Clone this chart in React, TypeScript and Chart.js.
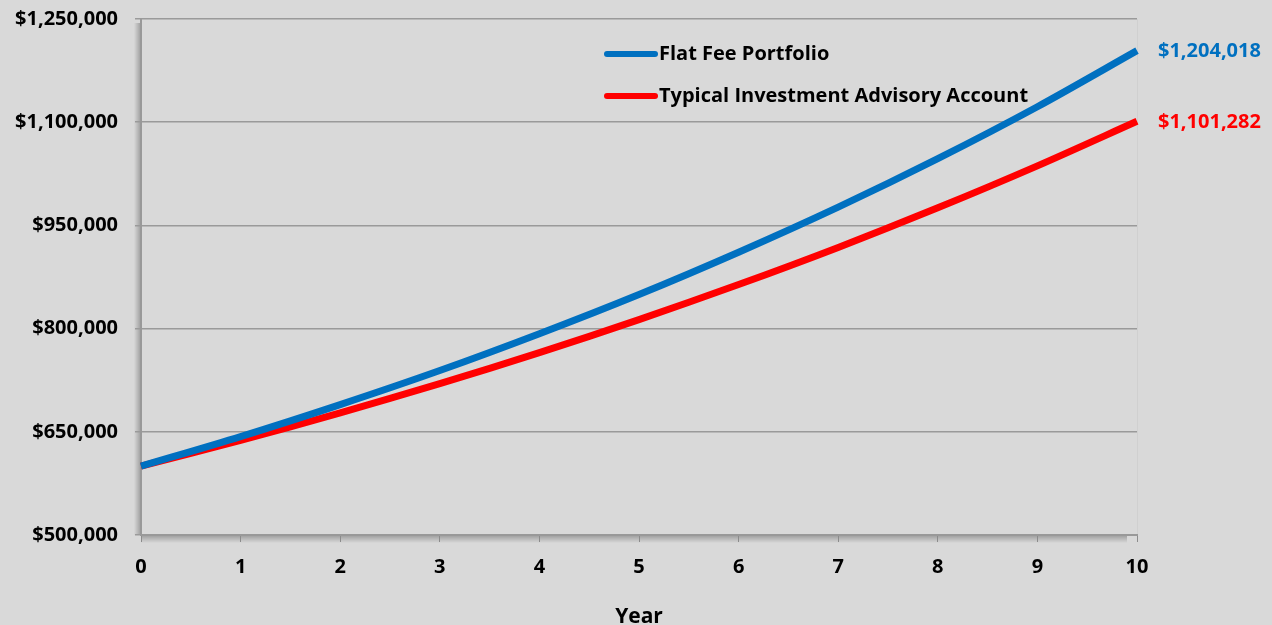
import React, { useEffect, useRef } from "react";
import { Chart, registerables } from "chart.js";

Chart.register(...registerables);

const years = ["0", "1", "2", "3", "4", "5", "6", "7", "8", "9", "10"];
const flatFee = [600000, 643000, 689500, 739000, 792500, 849500, 911000, 976500, 1047000, 1122500, 1204018];
const typical = [600000, 637600, 677500, 720000, 765000, 813000, 864000, 918000, 975500, 1036500, 1101282];
const seriesNames = ["Flat Fee Portfolio", "Typical Investment Advisory Account"];
const seriesColors = ["#0070c0", "#ff0000"];
const yMin = 500000;
const yMax = 1250000;
const yStep = 150000;
const xTitle = "Year";

const FONT = "'Open Sans', 'Noto Sans', sans-serif";
const FS = 20;
const fmt = (v: number) => "$" + Math.round(v).toLocaleString("en-US");

const shadowPlugin = {
  id: "axisShadow",
  beforeDraw(chart: any) {
    const { ctx, chartArea } = chart;
    const { left, right, top, bottom } = chartArea;
    ctx.save();
    // left axis shadow
    const gl = ctx.createLinearGradient(left - 7, 0, left, 0);
    gl.addColorStop(0, "rgba(0,0,0,0)");
    gl.addColorStop(1, "rgba(0,0,0,0.28)");
    ctx.fillStyle = gl;
    ctx.fillRect(left - 7, top + 4, 7, bottom - top - 4);
    // bottom axis shadow
    const gb = ctx.createLinearGradient(0, bottom, 0, bottom + 8);
    gb.addColorStop(0, "rgba(0,0,0,0.28)");
    gb.addColorStop(1, "rgba(0,0,0,0)");
    ctx.fillStyle = gb;
    ctx.fillRect(left, bottom, right - left - 10, 8);
    // faint right edge
    ctx.strokeStyle = "#d0d0d0";
    ctx.lineWidth = 1;
    ctx.beginPath();
    ctx.moveTo(right + 0.5, top);
    ctx.lineTo(right + 0.5, bottom);
    ctx.stroke();
    ctx.restore();
  },
};

const overlayPlugin = {
  id: "overlay",
  afterDatasetsDraw(chart: any) {
    const { ctx, chartArea } = chart;
    ctx.save();
    seriesNames.forEach((name, i) => {
      const y = 54 + i * 42;
      ctx.strokeStyle = seriesColors[i];
      ctx.lineWidth = 6;
      ctx.lineCap = "round";
      ctx.beginPath();
      ctx.moveTo(607, y);
      ctx.lineTo(655, y);
      ctx.stroke();
      ctx.fillStyle = "#000";
      ctx.font = `bold ${FS}px ${FONT}`;
      ctx.textBaseline = "middle";
      ctx.textAlign = "left";
      ctx.fillText(name, 659, y);
    });
    chart.data.datasets.forEach((ds: any, i: number) => {
      const meta = chart.getDatasetMeta(i);
      const pt = meta.data[meta.data.length - 1];
      const v = ds.data[ds.data.length - 1];
      ctx.fillStyle = seriesColors[i];
      ctx.font = `bold ${FS}px ${FONT}`;
      ctx.textBaseline = "middle";
      ctx.textAlign = "left";
      ctx.fillText(fmt(v), chartArea.right + 21, pt.y + 1);
    });
    ctx.restore();
  },
};

export default function App() {
  const ref = useRef<HTMLCanvasElement>(null);
  useEffect(() => {
    if (!ref.current) return;
    const chart = new Chart(ref.current, {
      type: "line",
      data: {
        labels: years,
        datasets: [
          {
            label: seriesNames[0],
            data: flatFee,
            borderColor: seriesColors[0],
            backgroundColor: seriesColors[0],
            borderWidth: 7,
            pointRadius: 0,
            tension: 0.3,
            borderCapStyle: "butt",
          },
          {
            label: seriesNames[1],
            data: typical,
            borderColor: seriesColors[1],
            backgroundColor: seriesColors[1],
            borderWidth: 7,
            pointRadius: 0,
            tension: 0.3,
            borderCapStyle: "butt",
          },
        ],
      },
      options: {
        animation: false,
        responsive: false,
        maintainAspectRatio: false,
        layout: { padding: { left: 0, right: 135, top: 19, bottom: 0 } },
        plugins: { legend: { display: false }, tooltip: { enabled: false } },
        scales: {
          x: {
            type: "category",
            offset: false,
            grid: {
              display: true,
              drawOnChartArea: false,
              drawTicks: true,
              tickLength: 7,
              color: "#8c8c8c",
            },
            border: { display: true, color: "#999999", width: 2 },
            ticks: {
              color: "#000",
              font: { family: FONT, size: FS, weight: "bold" },
              padding: 13,
              maxRotation: 0,
            },
            title: {
              display: true,
              text: xTitle,
              color: "#000",
              font: { family: FONT, size: 21, weight: "bold" },
              padding: { top: 0, bottom: -5 },
            },
            afterFit(scale: any) {
              scale.height = 90;
              scale.paddingLeft = 0;
              scale.paddingRight = 0;
            },
          },
          y: {
            type: "linear",
            min: yMin,
            max: yMax,
            grid: {
              color: "#9a9a9a",
              lineWidth: 1.5,
              tickLength: 6,
            },
            border: { display: true, color: "#999999", width: 2 },
            ticks: {
              stepSize: yStep,
              color: "#000",
              font: { family: FONT, size: FS, weight: "bold" },
              padding: 17,
              callback: (v: any) => fmt(Number(v)),
            },
            afterFit(scale: any) {
              scale.width = 141;
              scale.paddingTop = 0;
              scale.paddingBottom = 0;
            },
          },
        },
      },
      plugins: [shadowPlugin, overlayPlugin],
    } as any);
    return () => chart.destroy();
  }, []);
  return (
    <div style={{ position: "absolute", left: 0, top: 0, width: 1272, height: 625, background: "#d9d9d9", overflow: "hidden" }}>
      <canvas ref={ref} width={1272} height={625} style={{ display: "block" }} />
    </div>
  );
}
